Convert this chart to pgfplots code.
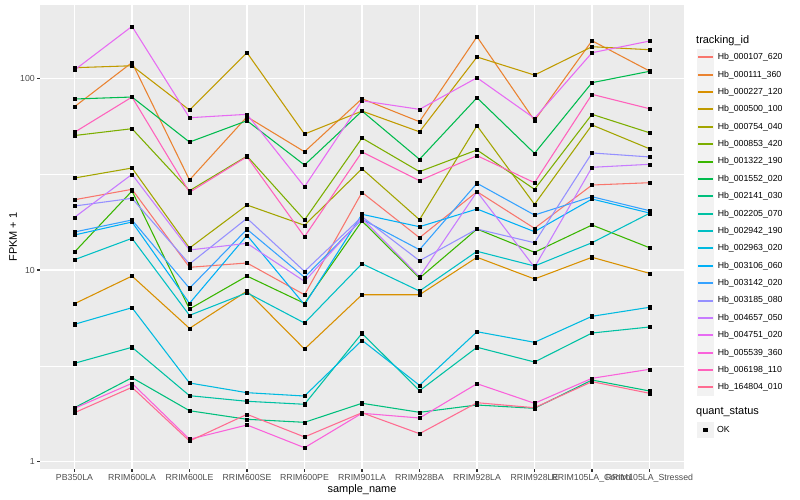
\documentclass[border=0pt]{standalone}
\usepackage{fontspec}
\setmainfont{Liberation Sans}
\usepackage{pgfplots}
\usepackage{pgfplotstable}
\pgfplotsset{compat=1.18}
\definecolor{c1}{HTML}{F8766D}
\definecolor{c2}{HTML}{EA8331}
\definecolor{c3}{HTML}{D89000}
\definecolor{c4}{HTML}{C09B00}
\definecolor{c5}{HTML}{A3A500}
\definecolor{c6}{HTML}{7CAE00}
\definecolor{c7}{HTML}{39B600}
\definecolor{c8}{HTML}{00BB4E}
\definecolor{c9}{HTML}{00BF7D}
\definecolor{c10}{HTML}{00C1A3}
\definecolor{c11}{HTML}{00BFC4}
\definecolor{c12}{HTML}{00BAE0}
\definecolor{c13}{HTML}{00B0F6}
\definecolor{c14}{HTML}{35A2FF}
\definecolor{c15}{HTML}{9590FF}
\definecolor{c16}{HTML}{C77CFF}
\definecolor{c17}{HTML}{E76BF3}
\definecolor{c18}{HTML}{FA62DB}
\definecolor{c19}{HTML}{FF62BC}
\definecolor{c20}{HTML}{FF6C91}
\definecolor{panelbg}{HTML}{EBEBEB}
\definecolor{keybg}{HTML}{F2F2F2}
\definecolor{tickc}{HTML}{333333}
\definecolor{ticklab}{HTML}{4D4D4D}
\pgfplotstableread{
x s1 s2 s3 s4 s5 s6 s7 s8 s9 s10 s11 s12 s13 s14 s15 s16 s17 s18 s19 s20
0 23.26 71.1 6.67 113.6 30.2 50.3 12.41 78.0 1.913 3.262 11.32 5.21 15.23 15.79 21.57 18.83 110.5 1.899 52.3 1.801
1 26.36 120.9 9.30 116.3 34.05 54.6 25.83 79.9 2.743 3.953 14.63 6.36 17.80 18.24 23.66 31.57 186.7 2.564 79.9 2.444
2 10.33 29.5 4.96 68.3 13.02 25.93 6.26 46.5 1.845 2.210 5.80 2.574 6.70 8.03 10.75 12.72 62.3 1.309 25.43 1.282
3 10.88 63.0 7.77 136.0 21.83 39.3 9.30 60.1 1.664 2.066 7.61 2.291 15.17 16.31 18.61 13.78 64.9 1.554 39.0 1.767
4 7.43 41.4 3.87 51.2 17.11 18.24 6.70 35.3 1.605 1.993 5.29 2.201 6.59 9.16 9.84 8.73 27.2 1.183 14.92 1.346
5 25.43 78.3 7.43 67.5 33.76 48.8 18.01 67.5 2.017 4.676 10.79 4.298 19.53 18.39 18.97 18.61 76.4 1.789 41.3 1.801
6 14.74 59.4 7.43 52.6 18.30 32.6 9.08 37.8 1.810 2.346 7.77 2.503 16.82 12.76 11.18 9.23 68.9 1.690 29.24 1.400
7 25.62 164.8 11.65 129.2 56.6 42.3 16.36 79.2 1.976 3.953 12.52 4.765 20.81 28.34 16.36 25.62 100.7 2.552 39.5 2.031
8 16.50 60.3 8.98 104.0 22.01 26.36 12.37 40.6 1.899 3.312 10.49 4.196 15.85 19.36 13.88 10.33 61.8 2.017 28.54 1.913
9 27.76 157.1 11.65 146.2 57.1 64.9 17.17 94.9 2.668 4.692 13.88 5.735 23.46 24.12 40.8 34.34 136.0 2.723 82.5 2.615
10 28.54 109.2 9.61 141.0 42.9 52.0 13.07 108.8 2.338 5.043 19.76 6.39 19.83 20.39 38.9 35.6 156.5 3.034 69.4 2.274
}\data
\begin{document}
\begin{tikzpicture}
\useasboundingbox (0,0) rectangle (800bp,500bp);
\begin{axis}[
  at={(40bp,31bp)}, anchor=south west,
  scale only axis, width=644bp, height=464bp,
  xmin=-0.6, xmax=10.6,
  ymode=log, ymin=0.916, ymax=241.3,
  axis background/.style={fill=panelbg},
  axis line style={draw=none},
  xtick={0,...,10},
  xticklabels={PB350LA,RRIM600LA,RRIM600LE,RRIM600SE,RRIM600PE,RRIM901LA,RRIM928BA,RRIM928LA,RRIM928LE,RRIM105LA\_Control,RRIM105LA\_Stressed},
  ytick={1,10,100}, yticklabels={1,10,100},
  minor ytick={3.16228,31.6228},
  xmajorgrids, ymajorgrids, yminorgrids,
  major grid style={white, line width=1.07bp},
  minor grid style={white, line width=0.53bp},
  tick align=outside, major tick length=2.75bp, minor tick length=0pt,
  tick style={color=tickc, line width=1.07bp},
  xtick pos=left, ytick pos=left,
  /pgf/number format/assume math mode=true,
  ticklabel style={font=\fontsize{8.8}{10}\selectfont, text=ticklab},
  xticklabel style={inner sep=0pt, anchor=north, yshift=-2.2bp},
  yticklabel style={inner sep=0pt, anchor=east, xshift=-2.2bp},
  label style={font=\fontsize{11}{13}\selectfont},
  xlabel={sample\_name}, ylabel={FPKM + 1},
  x label style={at={(axis description cs:0.5,-0.0437)}, anchor=center},
  y label style={at={(axis description cs:-0.0419,0.5)}, anchor=center, rotate=0},
  legend entries={Hb\_000107\_620,Hb\_000111\_360,Hb\_000227\_120,Hb\_000500\_100,Hb\_000754\_040,Hb\_000853\_420,Hb\_001322\_190,Hb\_001552\_020,Hb\_002141\_030,Hb\_002205\_070,Hb\_002942\_190,Hb\_002963\_020,Hb\_003106\_060,Hb\_003142\_020,Hb\_003185\_080,Hb\_004657\_050,Hb\_004751\_020,Hb\_005539\_360,Hb\_006198\_110,Hb\_164804\_010},
  legend style={at={(1.02065,0.90593)}, anchor=north west, draw=none, fill=none,
    inner sep=0pt, outer sep=0pt, row sep=0pt, column sep=4bp,
    font=\fontsize{8.8}{10}\selectfont,
    nodes={inner sep=0pt, minimum height=17.3bp}},
  legend cell align=left,
  legend image code/.code={
    \fill[keybg] (0bp,-8.15bp) rectangle (15.4bp,8.15bp);
    \fill[#1, draw=none] (0bp,-1bp) rectangle (15.4bp,1bp);},
]
\pgfplotsinvokeforeach{1,...,20}{
  \addplot[c#1, line width=1.07bp, mark=none] table[x=x, y=s#1]{\data};
}
\pgfplotsinvokeforeach{1,...,20}{
  \addplot[only marks, mark=square*, mark size=1.6bp, black, forget plot] table[x=x, y=s#1]{\data};
}
\end{axis}
\begin{axis}[
  at={(0bp,0bp)}, anchor=south west,
  scale only axis, width=800bp, height=500bp,
  hide axis, xmin=0, xmax=800, ymin=0, ymax=500,
  legend style={at={(0.871625,0.1566)}, anchor=north west, draw=none, fill=none,
    inner sep=0pt, outer sep=0pt, row sep=0pt, column sep=4bp,
    font=\fontsize{8.8}{10}\selectfont,
    nodes={inner sep=0pt, minimum height=15.6bp}},
  legend cell align=left,
]
\addlegendimage{legend image code/.code={
    \fill[keybg] (0bp,-7.8bp) rectangle (15.4bp,7.8bp);
    \fill[black] (6.1bp,-1.6bp) rectangle (9.3bp,1.6bp);}}
\addlegendentry{OK}
\end{axis}
\node[anchor=west, inner sep=0pt, font=\fontsize{11}{13}\selectfont] at (696bp,459.3bp) {tracking\_id};
\node[anchor=west, inner sep=0pt, font=\fontsize{11}{13}\selectfont] at (696bp,87.7bp) {quant\_status};
\end{tikzpicture}
\end{document}
